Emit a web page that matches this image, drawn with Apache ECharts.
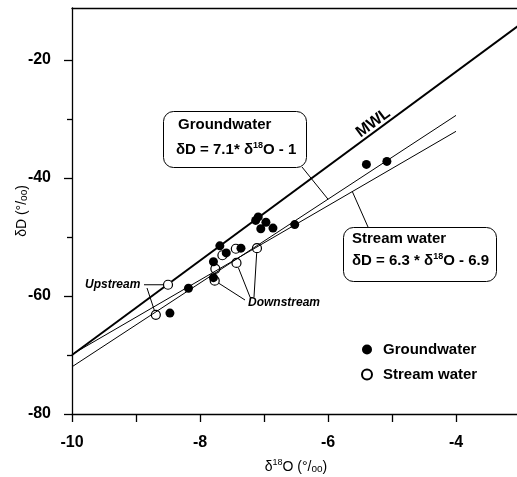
<!DOCTYPE html>
<html>
<head>
<meta charset="utf-8">
<script src="https://cdn.jsdelivr.net/npm/echarts@6/dist/echarts.min.js"></script>
<style>
  html, body { margin: 0; padding: 0; background: #fff; }
  #chart { width: 517px; height: 477px; }
</style>
</head>
<body>
<div id="chart"></div>
<script>
// Axis tick labels
const xLabelTicks = [-10, -8, -6, -4];
const xTicks = [-10, -9, -8, -7, -6, -5, -4];
const yLabelTicks = [-80, -60, -40, -20];
const yMinorTicks = [-70, -50, -30];

// Samples: [δ18O, δD]
const groundwater = [
  [-7.13, -47.2], [-7.09, -46.6], [-6.97, -47.5], [-7.05, -48.6], [-6.86, -48.5],
  [-6.52, -47.9], [-7.69, -51.5], [-7.59, -52.7], [-7.36, -51.9], [-7.79, -54.2],
  [-7.79, -56.9], [-8.18, -58.7], [-8.47, -62.9], [-5.40, -37.7], [-5.08, -37.2]
];
const streamWater = [
  [-8.50, -58.1], [-8.69, -63.2], [-7.65, -53.1], [-7.44, -52.0],
  [-7.11, -51.9], [-7.43, -54.4], [-7.76, -55.4], [-7.77, -57.4]
];

// Meteoric water line and the two regression lines: [slope, intercept]
const mwlLine = [8, 10];
const groundwaterFit = [7.1, -1];
const streamFit = [6.3, -6.9];
const mwlRange = [-10, -3];
const fitRange = [-10, -4];

const FONT = '"Liberation Sans", Arial, sans-serif';

const lineAt = (fit, x) => [x, fit[0] * x + fit[1]];

const chart = echarts.init(document.getElementById('chart'), null, { renderer: 'canvas' });

const option = {
  animation: false,
  backgroundColor: '#fff',
  grid: { left: 72, right: -3, top: 8, bottom: 63, containLabel: false, outerBoundsMode: 'none' },
  xAxis: [
    {
      type: 'value', min: -10, max: -3, interval: 1, position: 'bottom',
      splitLine: { show: false },
      axisLine: { lineStyle: { color: '#000', width: 1.3 } },
      axisTick: { customValues: xTicks, length: 8, lineStyle: { color: '#000', width: 1.3 } },
      axisLabel: {
        customValues: xLabelTicks, margin: 21, color: '#000',
        fontFamily: FONT, fontWeight: 'bold', fontSize: 16
      },
      name: '{a|δ}{s|18}{a|O (°/}{b|oo}{a|)}',
      nameLocation: 'middle', nameGap: 44,
      nameTextStyle: {
        rich: {
          a: { fontFamily: FONT, fontSize: 14, color: '#000', lineHeight: 16, verticalAlign: 'bottom' },
          s: { fontFamily: FONT, fontSize: 9, color: '#000', lineHeight: 16, verticalAlign: 'top' },
          b: { fontFamily: FONT, fontSize: 10, color: '#000', lineHeight: 16, verticalAlign: 'bottom' }
        }
      }
    },
    {
      type: 'value', min: -10, max: -3, position: 'top',
      splitLine: { show: false },
      axisLine: { lineStyle: { color: '#000', width: 1.3 } },
      axisTick: { show: false }, axisLabel: { show: false }
    }
  ],
  yAxis: [
    {
      type: 'value', min: -80, max: -11.2, interval: 10, position: 'left',
      splitLine: { show: false },
      axisLine: { lineStyle: { color: '#000', width: 1.3 } },
      axisTick: { customValues: yLabelTicks, length: 8, lineStyle: { color: '#000', width: 1.3 } },
      axisLabel: {
        customValues: yLabelTicks, margin: 21, color: '#000',
        fontFamily: FONT, fontWeight: 'bold', fontSize: 16
      },
      name: '{a|δD (°/}{b|oo}{a|)}',
      nameLocation: 'middle', nameGap: 43, nameRotate: 90, nameMoveOverlap: false,
      nameTextStyle: {
        rich: {
          a: { fontFamily: FONT, fontSize: 14, color: '#000', lineHeight: 16, verticalAlign: 'bottom' },
          b: { fontFamily: FONT, fontSize: 10, color: '#000', lineHeight: 16, verticalAlign: 'bottom' }
        }
      }
    },
    {
      type: 'value', min: -80, max: -11.2, interval: 10, position: 'left', offset: 0,
      splitLine: { show: false },
      axisLine: { show: false },
      axisTick: { customValues: yMinorTicks, length: 5, lineStyle: { color: '#000', width: 1.3 } },
      axisLabel: { show: false }
    }
  ],
  legend: {
    orient: 'vertical', left: 361, top: 342, padding: 0,
    itemWidth: 10, itemHeight: 10, itemGap: 10,
    data: ['Groundwater', 'Stream water'],
    textStyle: { fontFamily: FONT, fontWeight: 'bold', fontSize: 15, color: '#000', padding: [0, 0, 0, 6] }
  },
  series: [
    {
      name: 'MWL', type: 'line', symbol: 'none', silent: true,
      lineStyle: { color: '#000', width: 2 },
      data: mwlRange.map(x => lineAt(mwlLine, x)), z: 2
    },
    {
      name: 'fits', type: 'line', symbol: 'none', silent: true, data: [],
      markLine: {
        silent: true, symbol: ['none', 'arrow'], symbolSize: [0, 9],
        label: { show: false },
        lineStyle: { color: '#000', width: 1, type: 'solid' },
        data: [
          [{ coord: lineAt(groundwaterFit, fitRange[0]) }, { coord: lineAt(groundwaterFit, fitRange[1]) }],
          [{ coord: lineAt(streamFit, fitRange[0]) }, { coord: lineAt(streamFit, fitRange[1]) }]
        ]
      }, z: 2
    },
    {
      name: 'Stream water', type: 'scatter', symbol: 'circle', symbolSize: 9,
      itemStyle: { color: '#fff', borderColor: '#000', borderWidth: 1.2, opacity: 1 },
      data: streamWater, z: 3
    },
    {
      name: 'Groundwater', type: 'scatter', symbol: 'circle', symbolSize: 9,
      itemStyle: { color: '#000', opacity: 1 },
      data: groundwater, z: 4
    }
  ]
};

chart.setOption(option);

// Annotations placed relative to data coordinates
const px = (p) => chart.convertToPixel({ gridIndex: 0 }, p);
const fromEdge = (p, q, r) => {
  const dx = q[0] - p[0], dy = q[1] - p[1], L = Math.hypot(dx, dy);
  return [p[0] + dx / L * r, p[1] + dy / L * r];
};
const seg = (a, b, w) => ({
  type: 'line', silent: true, z: 50,
  shape: { x1: a[0], y1: a[1], x2: b[0], y2: b[1] },
  style: { stroke: '#000', lineWidth: w || 1 }
});
const txt = (text, x, y, opts) => ({
  type: 'text', silent: true, z: 60, x: x, y: y,
  style: Object.assign({
    text: text, fill: '#000', fontFamily: FONT, fontWeight: 'bold', fontSize: 15,
    align: 'left', verticalAlign: 'middle'
  }, opts || {})
});
const eqRich = {
  s: { fontFamily: FONT, fontWeight: 'bold', fontSize: 9, fill: '#000', verticalAlign: 'top', lineHeight: 17 },
  a: { fontFamily: FONT, fontWeight: 'bold', fontSize: 15, fill: '#000', lineHeight: 17 }
};

// MWL label along the line
const m1 = px(lineAt(mwlLine, -5.6)), m2 = px(lineAt(mwlLine, -5.0));
const ang = Math.atan2(m2[1] - m1[1], m2[0] - m1[0]);
const mc = px(lineAt(mwlLine, -5.22));
const nx = Math.sin(ang) * 8, ny = -Math.cos(ang) * 8;

// Leader endpoints on the regression lines
const gwTarget = px(lineAt(groundwaterFit, -6));
const swTarget = px(lineAt(streamFit, -5.62));

// Upstream / downstream samples
const up1 = px(streamWater[0]), up2 = px(streamWater[1]);
const dn = [
  [px(streamWater[7]), [245, 300]],
  [px(streamWater[5]), [250, 297]],
  [px(streamWater[4]), [254, 297]]
];

const graphics = [
  {
    type: 'rect', silent: true, z: 40,
    shape: { x: 163.5, y: 111.5, width: 143, height: 56, r: 10 },
    style: { fill: '#fff', stroke: '#000', lineWidth: 1 }
  },
  txt('Groundwater', 178, 125),
  txt('{a|δD = 7.1* δ}{s|18}{a|O - 1}', 176, 150, { rich: eqRich }),
  {
    type: 'rect', silent: true, z: 40,
    shape: { x: 343.5, y: 227.5, width: 153, height: 54, r: 10 },
    style: { fill: '#fff', stroke: '#000', lineWidth: 1 }
  },
  txt('Stream water', 352, 239),
  txt('{a|δD = 6.3 * δ}{s|18}{a|O - 6.9}', 352, 261, { rich: eqRich }),
  seg([302, 167], gwTarget),
  seg([368, 227], swTarget),
  {
    type: 'text', silent: true, z: 60,
    x: mc[0] + nx, y: mc[1] + ny, rotation: -ang,
    style: {
      text: 'MWL', fill: '#000', fontFamily: FONT, fontWeight: 'bold', fontSize: 16,
      align: 'center', verticalAlign: 'middle'
    }
  },
  txt('Upstream', 85, 285, { fontStyle: 'italic', fontSize: 12 }),
  seg([144, up1[1]], [up1[0] - 5, up1[1]]),
  seg([147, 288], fromEdge(up2, [147, 288], 5)),
  txt('Downstream', 248, 303, { fontStyle: 'italic', fontSize: 12 })
];
dn.forEach(([p, end]) => graphics.push(seg(fromEdge(p, end, 5), end)));

chart.setOption({ graphic: graphics });
</script>
</body>
</html>
